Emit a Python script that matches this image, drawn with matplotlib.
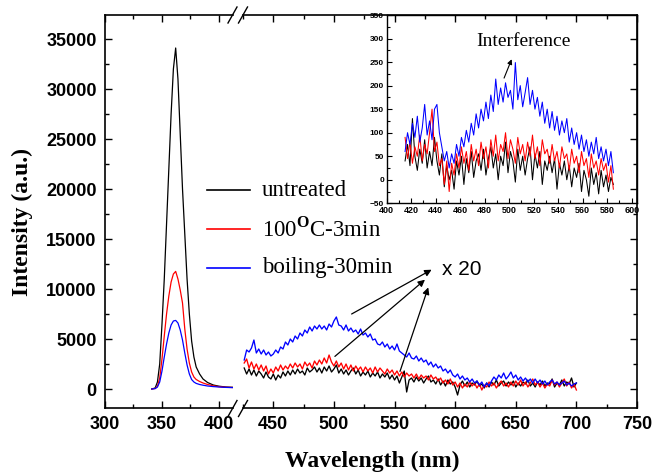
import numpy as np
import matplotlib
matplotlib.use("Agg")
import matplotlib.pyplot as plt
from matplotlib.lines import Line2D
from matplotlib.ticker import MultipleLocator

plt.rcParams['font.family'] = ['Liberation Sans', 'DejaVu Sans']
plt.rcParams['font.weight'] = 'bold'
plt.rcParams['mathtext.fontset'] = 'custom'
plt.rcParams['mathtext.rm'] = 'Liberation Serif'

# UV peak (left part of the broken axis)
peak_wl = [341, 344, 346, 348, 350, 352, 354, 356, 358, 360, 362, 364, 366, 368,
           370, 372, 374, 376, 378, 380, 383, 386, 390, 395, 400, 406, 412]
peak_untreated = [0, 100, 700, 2500, 6500, 11000, 16500, 22000, 27500, 32000, 34100,
                  31000, 25500, 20000, 15500, 11000, 7500, 4800, 3200, 2200, 1500,
                  1000, 650, 400, 280, 200, 170]
peak_100c = [0, 50, 250, 1100, 3000, 5300, 7500, 9300, 10700, 11500, 11760, 11000,
             9900, 8600, 6000, 4000, 2600, 1700, 1200, 950, 750, 600, 450, 320, 230,
             170, 150]
peak_boil = [0, 40, 200, 700, 1800, 3200, 4500, 5600, 6400, 6800, 6860, 6600, 5900,
             4900, 3600, 2400, 1500, 950, 700, 560, 450, 380, 300, 240, 200, 160, 140]

# visible emission x20 (right part), 426..700 nm every 2 nm
vis_wl = np.arange(426, 701, 2)
vis_untreated = [
    2100, 1500, 2000, 1400, 1900, 1300, 1800, 1500, 1100, 1700,
    1200, 1000, 1500, 900, 1400, 1100, 1700, 1300, 1800, 1400,
    1900, 1500, 2000, 1600, 1800, 1400, 2100, 1700, 1900, 2200,
    1700, 2100, 1600, 2200, 1800, 2300, 1700, 2000, 2400, 1600,
    2000, 1500, 1900, 1400, 1800, 2100, 1500, 1900, 1300, 1700,
    1400, 1800, 1200, 1600, 1300, 1700, 1100, 1500, 1200, 1600,
    1000, 1400, 900, 1300, 600, 1200, 1800, -300, 900, 1100,
    700, 1200, 800, 1100, 600, 1000, 1300, 700, 900, 500,
    1000, 400, 800, 300, 900, 500, 700, 200, -600, 400,
    800, 300, 700, 200, 600, 400, 800, 300, 500, 100,
    600, 200, 700, 400, 900, 300, 600, 800, 300, 700,
    400, 800, 200, 600, 300, 700, 500, 900, 300, 600,
    200, 700, 400, 800, 300, 600, 500, 1000, 200, 600,
    400, 900, 300, 700, 500, 1100, 200, 600]
vis_100c = [
    2600, 3000, 2100, 2700, 2000, 2500, 1900, 2400, 1800, 2300,
    1500, 2000, 1600, 2200, 1800, 2400, 1900, 2300, 2000, 2500,
    2100, 2600, 2200, 2500, 2000, 2700, 2300, 2600, 2100, 2800,
    2400, 2900, 2500, 3100, 2600, 3400, 2700, 2300, 2800, 2200,
    2600, 2000, 2500, 1900, 2400, 1800, 2300, 1900, 2200, 1700,
    2200, 1800, 2100, 1600, 2200, 1700, 2100, 1800, 1500, 2000,
    1600, 1900, 1400, 1800, 1300, 1700, 1200, 1600, 1300, 1500,
    1100, 1500, 1000, 1400, 1100, 1300, 900, 1400, 1000, 1200,
    800, 1100, 600, 900, 500, 1000, 400, 700, 200, 600,
    100, 500, 200, 700, 300, 600, 100, 500, -100, 400,
    200, 700, 300, 600, 100, 500, 800, 300, 600, 200,
    700, 300, 800, 400, 900, 300, 700, 200, 600, 1000,
    400, 700, 200, 600, 100, 500, 300, 900, 400, 700,
    200, 600, 1000, 300, 700, 100, 500, -100]
vis_boil = [
    2900, 3900, 3700, 4100, 4900, 3600, 4000, 3500, 3900, 3400,
    3700, 3300, 3500, 3900, 3600, 4200, 4000, 4700, 4400, 5000,
    4700, 5300, 5000, 5600, 5300, 5900, 5600, 6200, 5800, 6300,
    6000, 6400, 6000, 6300, 5900, 6500, 6200, 6800, 7200, 6400,
    6300, 5900, 6400, 5800, 6100, 5700, 5900, 5500, 6000, 5400,
    5600, 5200, 5500, 4900, 5000, 4500, 4400, 4700, 4200, 4500,
    4000, 4300, 3900, 4500, 3800, 3600, 3400, 3200, 3600, 3100,
    3000, 3300, 2800, 3100, 2700, 2900, 2400, 2700, 2200, 2500,
    2100, 2300, 1800, 2000, 1600, 1900, 1400, 1200, 1500, 1000,
    1300, 900, 1100, 700, 1000, 600, 800, 400, 700, 200,
    600, 300, 800, 1200, 900, 1400, 1100, 1600, 1000, 1300,
    1700, 1100, 1400, 900, 1200, 800, 1100, 700, 1000, 600,
    1000, 600, 900, 500, 800, 400, 700, 900, 500, 700,
    400, 600, 800, 400, 600, 300, 500, 600]

# inset: raw visible emission, 415..585 nm every 2 nm
ins_wl = np.arange(415, 586, 2)
ins_untreated = [
    40, 75, 30, 130, 50, 20, 65, 35, 85, 25,
    60, 30, 90, 40, 10, 55, -15, 30, 0, 20,
    -20, 40, 10, 50, -10, 45, 15, 60, 5, 40,
    55, 20, 65, 10, 45, 70, 25, 55, 0, 50,
    30, 80, 15, 60, 40, -5, 65, 20, 50, 10,
    45, 70, 0, 55, 25, 60, -10, 40, 20, 50,
    15, 45, -20, 35, 10, 40, 0, 30, -15, 25,
    5, 35, -25, 20, 0, -35, 25, -10, 15, -30,
    20, -15, 10, -25, 5, -10]
ins_100c = [
    90, 45, 80, 35, 70, 50, 95, 40, 75, 55,
    100, 150, 60, 80, 30, 45, -10, 40, -25, 35,
    10, 55, 25, 70, 35, 60, 20, 75, 40, 65,
    30, 80, 45, 70, 25, 85, 50, 95, 40, 75,
    60, 100, 45, 85, 65, 35, 90, 55, 75, 40,
    80, 50, 95, 45, 70, 30, 85, 55, 65, 35,
    75, 40, 60, 25, 70, 45, 55, 20, 65, 35,
    50, 15, 60, 30, 45, 5, 55, 25, 40, 10,
    45, 20, 35, -5, 30, -20]
ins_boil = [
    60, 100, 75, 120, 90, 135, 80, 110, 160, 95,
    125, 85, 150, 160, 100, 70, 40, 60, 25, 55,
    35, 75, 50, 90, 70, 105, 80, 120, 95, 140,
    110, 150, 125, 165, 130, 180, 145, 214, 160, 195,
    165, 206, 175, 190, 150, 249, 170, 200, 155, 185,
    217, 160, 190, 150, 175, 135, 165, 120, 150, 110,
    145, 105, 135, 95, 125, 100, 130, 80, 110, 75,
    100, 65, 95, 60, 85, 50, 80, 55, 90, 45,
    70, 40, 65, 30, 60, 15]

labels = ['untreated', '100$^{\\rm O}$C-3min', 'boiling-30min']
colors = ['black', 'red', 'blue']

W, H = 654, 474


def box(l, t, r, b):
    return [l / W, 1 - b / H, (r - l) / W, (b - t) / H]


def fx(x):
    return x / W


def fy(y):
    return 1 - y / H


fig = plt.figure(figsize=(6.54, 4.74), dpi=100)
ax1 = fig.add_axes(box(105, 15, 233, 408))
ax2 = fig.add_axes(box(243, 15, 637, 408))

for ys, c in zip([peak_untreated, peak_100c, peak_boil], colors):
    ax1.plot(peak_wl, ys, color=c, lw=0.9)
for ys, c in zip([vis_untreated, vis_100c, vis_boil], colors):
    ax2.plot(vis_wl, ys, color=c, lw=0.95)

ax1.set_xlim(300, 412.3)
ax2.set_xlim(425, 750)
for ax in (ax1, ax2):
    ax.set_ylim(-1900, 37400)
    for s in ax.spines.values():
        s.set_linewidth(1.2)
    ax.tick_params(which='both', direction='in', top=True, width=1,
                   labelsize=13, pad=6)
    ax.tick_params(which='major', length=5)
    ax.tick_params(which='minor', length=3)
    ax.xaxis.set_major_locator(MultipleLocator(50))
    ax.xaxis.set_minor_locator(MultipleLocator(25))
    ax.yaxis.set_major_locator(MultipleLocator(5000))
    ax.yaxis.set_minor_locator(MultipleLocator(2500))

ax1.spines['right'].set_visible(False)
ax1.tick_params(which='both', right=False)
ax2.spines['left'].set_visible(False)
ax2.tick_params(which='both', left=False, right=True, labelleft=False)

# break marks
for xc in (232.5, 243):
    for yc in (408.5, 15):
        fig.add_artist(Line2D([fx(xc - 4.5), fx(xc + 4.5)], [fy(yc + 8), fy(yc - 8)],
                              color='black', lw=1))

fig.text(fx(22), fy(222), 'Intensity (a.u.)', rotation=90, ha='center', va='center',
         family='Liberation Serif', weight='bold', fontsize=17)
fig.text(fx(372), fy(461), 'Wavelength (nm)', ha='center', va='center',
         family='Liberation Serif', weight='bold', fontsize=17)

# legend
for i, (lab, c) in enumerate(zip(labels, colors)):
    y = 190 + 39 * i
    fig.add_artist(Line2D([fx(207), fx(250)], [fy(y), fy(y)], color=c, lw=1.2))
    fig.text(fx(262), fy(y), lab, ha='left', va='center',
             family='Liberation Serif', weight='normal', fontsize=16.5)

# x 20 arrows
arrow_tails = [(514.6, 7500), (500.8, 3260), (554.5, 1760)]
arrow_heads = [(580.6, 11930), (575.1, 10930), (577.8, 10160)]
for tail, head in zip(arrow_tails, arrow_heads):
    ax2.annotate('', xy=head, xytext=tail,
                 arrowprops=dict(arrowstyle='-|>', color='black', lw=0.9,
                                 mutation_scale=10, shrinkA=0, shrinkB=0))
ax2.text(588.9, 11930, 'x 20', ha='left', va='center', fontsize=15, weight='normal')

# inset
ins = fig.add_axes(box(386.7, 15, 637, 203.3))
ins.patch.set_alpha(0)
for ys, c in zip([ins_untreated, ins_100c, ins_boil], colors):
    ins.plot(ins_wl, ys, color=c, lw=0.75)
ins.set_xlim(400, 604.3)
ins.set_ylim(-50, 350)
ins.xaxis.set_major_locator(MultipleLocator(20))
ins.xaxis.set_minor_locator(MultipleLocator(10))
ins.yaxis.set_major_locator(MultipleLocator(50))
ins.yaxis.set_minor_locator(MultipleLocator(25))
ins.tick_params(which='both', direction='in', width=0.8, pad=2)
ins.tick_params(axis='x', labelsize=6.5)
ins.tick_params(axis='y', labelsize=6)
ins.tick_params(which='major', length=3.5)
ins.tick_params(which='minor', length=2)
for s in ins.spines.values():
    s.set_linewidth(1.0)
ins.annotate('', xy=(502, 256), xytext=(495.8, 216),
             arrowprops=dict(arrowstyle='-|>', color='black', lw=0.8,
                             mutation_scale=7, shrinkA=0, shrinkB=0))
ins.text(511.3, 293, 'Interference', ha='center', va='center',
         family='Liberation Serif', weight='normal', fontsize=14)

fig.savefig('out.png', dpi=100)
